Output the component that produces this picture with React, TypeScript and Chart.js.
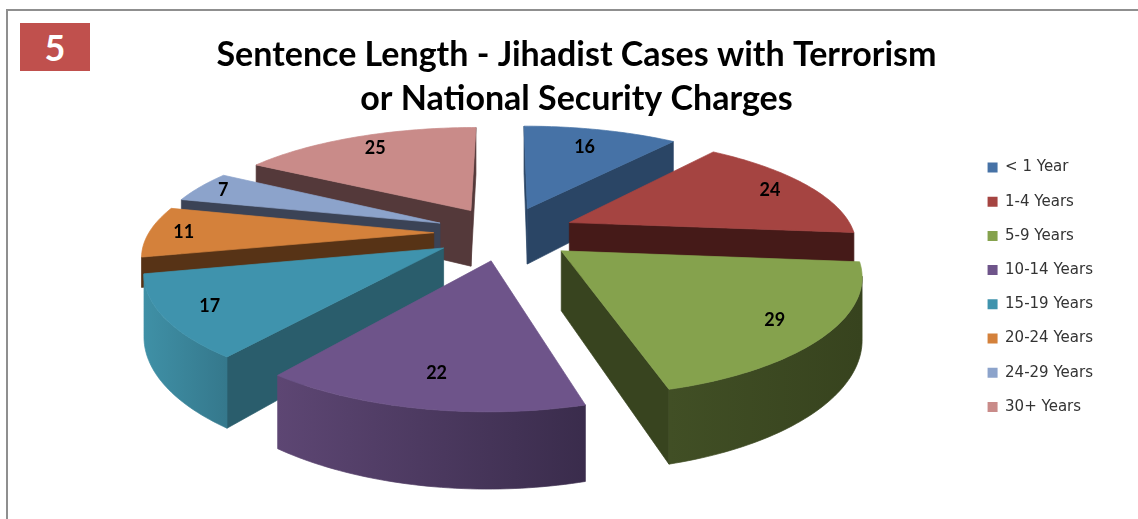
import React, { useEffect, useRef } from "react";
import { Chart, registerables } from "chart.js";

Chart.register(...registerables);

const titleLines = ["Sentence Length - Jihadist Cases with Terrorism", "or National Security Charges"];
const categories = ["< 1 Year", "1-4 Years", "5-9 Years", "10-14 Years", "15-19 Years", "20-24 Years", "24-29 Years", "30+ Years"];
const sentenceCounts = [16, 24, 29, 22, 17, 11, 7, 25];
const topColors = ["#4672A6", "#A54441", "#85A24D", "#6E548A", "#3F93AD", "#D4813B", "#8CA3CB", "#C98B89"];
const radialWallColors = ["#2A4565", "#451A18", "#38441F", "#3E3052", "#2A5D6C", "#573316", "#3B4356", "#54393A"];
const outerWallStart = ["", "", "#37431E", "#3A2C4C", "#35788C", "", "", ""];
const outerWallEnd = ["", "", "#414F25", "#5D4673", "#3F90A6", "", "", ""];
const labelRadius = [0.75, 0.84, 0.83, 0.8, 0.85, 0.88, 0.9, 0.82];
const wallDepth = [1, 1, 1, 1, 1, 0.5, 1, 1];

// view settings of the tilted, exploded pie
const VIEW = { cx: 505, cy: 233, radiusX: 285, radiusY: 107.8, perspX: 0.18, perspY: 0.2, depth: 58, explode: 0.25 };

type Pt = { x: number; y: number };

function project(wx: number, wy: number, z: number): Pt {
  const wX = 1 / (1 - VIEW.perspX * wy);
  const wY = 1 / (1 - VIEW.perspY * wy);
  return {
    x: VIEW.cx + wx * VIEW.radiusX * wX,
    y: VIEW.cy + wy * VIEW.radiusY * wY - z * VIEW.depth * wY,
  };
}
function area(p: Pt[]) {
  let s = 0;
  p.forEach((a, i) => {
    const b = p[(i + 1) % p.length];
    s += a.x * b.y - b.x * a.y;
  });
  return s / 2;
}
function poly(ctx: CanvasRenderingContext2D, p: Pt[], color: string | CanvasGradient) {
  ctx.beginPath();
  p.forEach((q, i) => (i ? ctx.lineTo(q.x, q.y) : ctx.moveTo(q.x, q.y)));
  ctx.closePath();
  ctx.fillStyle = color;
  ctx.strokeStyle = color;
  ctx.lineWidth = 0.7;
  ctx.fill();
  ctx.stroke();
}

const pie3d = {
  id: "pie3d",
  beforeDatasetsDraw(chart: any) {
    const ctx: CanvasRenderingContext2D = chart.ctx;
    const arcs = chart.getDatasetMeta(0).data.map((el: any, i: number) => {
      const { startAngle, endAngle } = el.getProps(["startAngle", "endAngle"], true);
      const mid = (startAngle + endAngle) / 2;
      return { i, startAngle, endAngle, mid };
    });
    arcs.sort((a: any, b: any) => Math.sin(a.mid) - Math.sin(b.mid));
    ctx.save();
    for (const s of arcs) {
      const ox = VIEW.explode * Math.cos(s.mid);
      const oy = VIEW.explode * Math.sin(s.mid);
      const at = (a: number, r: number, z: number) => project(ox + r * Math.cos(a), oy + r * Math.sin(a), z);
      const n = Math.max(4, Math.ceil((s.endAngle - s.startAngle) / 0.02));
      const low = -wallDepth[s.i];
      const rim: Pt[] = [];
      const rimLow: Pt[] = [];
      for (let k = 0; k <= n; k++) {
        const a = s.startAngle + ((s.endAngle - s.startAngle) * k) / n;
        rim.push(at(a, 1, 0));
        rimLow.push(at(a, 1, low));
      }
      const apex = at(0, 0, 0);
      const apexLow = at(0, 0, low);
      // radial walls, keeping only those facing the viewer
      const w1 = [apex, rim[0], rimLow[0], apexLow];
      const w2 = [rim[n], apex, apexLow, rimLow[n]];
      if (area(w1) < 0) poly(ctx, w1, radialWallColors[s.i]);
      if (area(w2) < 0) poly(ctx, w2, radialWallColors[s.i]);
      // outer wall: the facing run of the rim, shaded across its width
      let first = -1;
      let last = -1;
      for (let k = 0; k < n; k++) {
        if (area([rim[k], rim[k + 1], rimLow[k + 1], rimLow[k]]) < 0) {
          if (first < 0) first = k;
          last = k + 1;
        }
      }
      if (first >= 0 && outerWallStart[s.i]) {
        const g = ctx.createLinearGradient(rim[first].x, 0, rim[last].x, 0);
        g.addColorStop(0, outerWallStart[s.i]);
        g.addColorStop(1, outerWallEnd[s.i]);
        poly(ctx, [...rim.slice(first, last + 1), ...rimLow.slice(first, last + 1).reverse()], g);
      }
      poly(ctx, [apex, ...rim], topColors[s.i]);
    }
    // value labels
    ctx.font = "bold 18px Lato";
    ctx.fillStyle = "#000";
    ctx.textAlign = "center";
    ctx.textBaseline = "middle";
    for (const s of arcs) {
      const ox = VIEW.explode * Math.cos(s.mid);
      const oy = VIEW.explode * Math.sin(s.mid);
      const r = labelRadius[s.i];
      const p = project(ox + r * Math.cos(s.mid), oy + r * Math.sin(s.mid), 0);
      ctx.fillText(String(sentenceCounts[s.i]), p.x, p.y);
    }
    ctx.restore();
    return false;
  },
};

export default function App() {
  const ref = useRef<HTMLCanvasElement>(null);
  useEffect(() => {
    const chart = new Chart(ref.current!, {
      type: "pie",
      data: {
        labels: categories,
        datasets: [{ data: sentenceCounts, backgroundColor: topColors, borderWidth: 0 }],
      },
      plugins: [pie3d],
      options: {
        animation: false,
        responsive: false,
        layout: { padding: { left: 50, right: 35, top: 33, bottom: 66 } },
        plugins: {
          tooltip: { enabled: false },
          title: {
            display: true,
            text: titleLines,
            color: "#000",
            font: { family: "Lato", weight: "bold", size: 34, lineHeight: 1.3 },
            padding: { top: 0, bottom: 0 },
          },
          legend: {
            display: true,
            position: "right",
            fullSize: false,
            labels: {
              boxWidth: 10,
              boxHeight: 10,
              padding: 19.2,
              color: "#333",
              font: { family: "DejaVu Sans", size: 15 },
            },
          },
        },
      },
    } as any);
    return () => chart.destroy();
  }, []);
  return (
    <div style={{ position: "fixed", left: 0, top: 0, width: 1138, height: 519, background: "#fff", overflow: "hidden" }}>
      <div style={{ position: "absolute", left: 6, top: 9, width: 1132, height: 510, borderTop: "2px solid #8f8f8f", borderLeft: "2px solid #8f8f8f", boxSizing: "border-box" }} />
      <div style={{ position: "absolute", left: 20, top: 23, width: 70, height: 48, background: "#C0504D", color: "#fff", font: "bold 36px Lato", display: "flex", alignItems: "center", justifyContent: "center" }}>5</div>
      <canvas ref={ref} width={1138} height={519} style={{ position: "absolute", left: 0, top: 0 }} />
    </div>
  );
}
